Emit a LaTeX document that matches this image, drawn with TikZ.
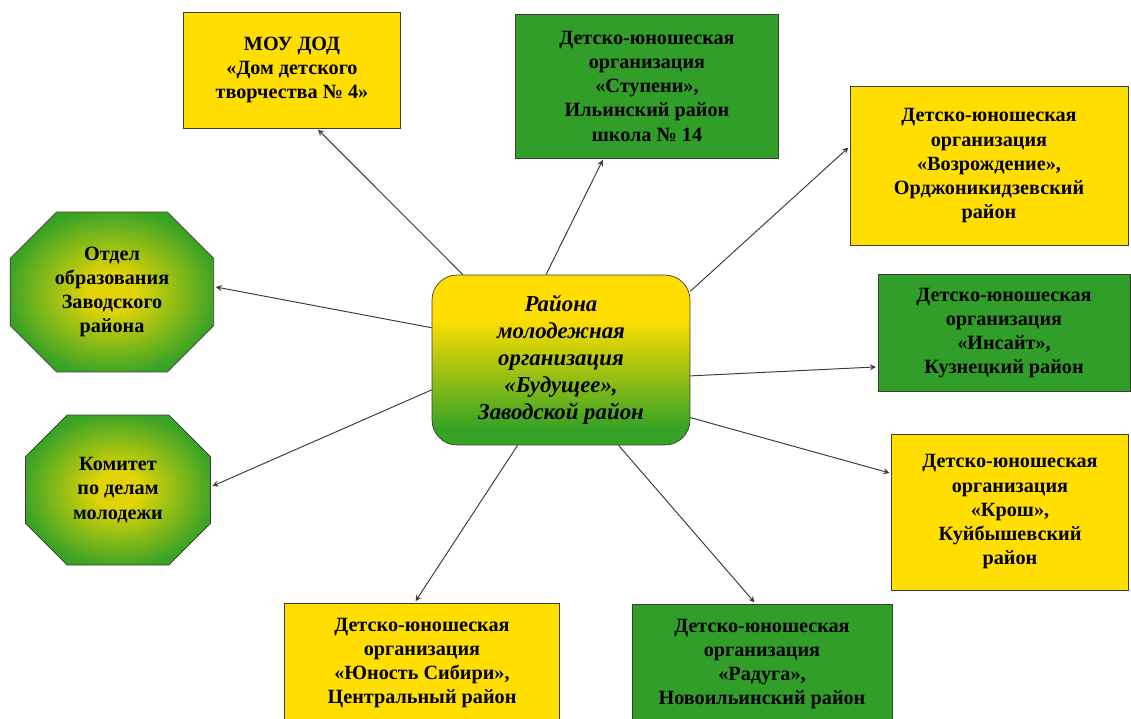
\documentclass[tikz,border=0pt]{standalone}
\usepackage{fontspec}
\setmainfont{Liberation Serif}
\usetikzlibrary{shapes.misc,arrows}
\definecolor{boxyellow}{RGB}{255,222,0}
\definecolor{boxgreen}{RGB}{48,158,40}
\definecolor{edgegray}{RGB}{60,60,50}
\pgfdeclareradialshading{octshade}{\pgfpoint{0bp}{0bp}}{color(0bp)=(boxyellow!85!boxgreen);
	color(6bp)=(boxyellow!85!boxgreen); color(26bp)=(boxgreen!95!yellow); color(50bp)=(boxgreen)}
\pgfdeclareverticalshading{midshade}{100bp}{color(0bp)=(boxgreen!95!lime); color(30bp)=(boxgreen!95!lime);
	color(62bp)=(boxyellow); color(100bp)=(boxyellow)}

\begin{document}
\begin{tikzpicture}[x=0.02cm,y=-0.02cm,>=stealth,shorten >=1pt,
	thin,yellow box/.style = {rectangle,draw=edgegray,fill=boxyellow,align=center,
		font=\bfseries\fontsize{11.5}{13.8}\selectfont,inner sep=2pt},
	green box/.style = {yellow box,fill=boxgreen},
	oct node/.style = {chamfered rectangle,chamfered rectangle xsep=0.9cm,draw=edgegray,
		shading=octshade,align=center,
		font=\bfseries\fontsize{11.5}{13.8}\selectfont,inner sep=2pt},
	main node/.style = {rectangle,rounded corners=0.5cm,draw=edgegray,shading=midshade,
		align=center,font=\bfseries\itshape\fontsize{13}{15.4}\selectfont}]
	
	\useasboundingbox (0,0) rectangle (1131,718);
	
	\node[main node,minimum width=5.16cm,minimum height=3.4cm] (c) at (561,360)
		{Района\\молодежная\\организация\\«Будущее»,\\Заводской район};
	
	\node[yellow box,minimum width=4.34cm,minimum height=2.32cm] (dom) at (292,70)
		{МОУ ДОД\\«Дом детского\\творчества № 4»};
	\node[green box,minimum width=5.26cm,minimum height=2.88cm] (stup) at (647,86)
		{Детско-юношеская\\организация\\«Ступени»,\\Ильинский район\\школа № 14};
	\node[yellow box,minimum width=5.56cm,minimum height=3.18cm] (vozr) at (989,166)
		{Детско-юношеская\\организация\\«Возрождение»,\\Орджоникидзевский\\район};
	\node[green box,minimum width=5.04cm,minimum height=2.34cm] (ins) at (1004,333)
		{Детско-юношеская\\организация\\«Инсайт»,\\Кузнецкий район};
	\node[yellow box,minimum width=4.74cm,minimum height=3.12cm] (krosh) at (1010,512)
		{Детско-юношеская\\организация\\«Крош»,\\Куйбышевский\\район};
	\node[yellow box,minimum width=5.5cm,minimum height=2.4cm] (yun) at (422,663)
		{Детско-юношеская\\организация\\«Юность Сибири»,\\Центральный район};
	\node[green box,minimum width=5.2cm,minimum height=2.4cm] (rad) at (762,664)
		{Детско-юношеская\\организация\\«Радуга»,\\Новоильинский район};
	
	\node[oct node,chamfered rectangle xsep=0.82cm,minimum width=3.78cm,minimum height=3.2cm] (otd) at (112,292)
		{Отдел\\образования\\Заводского\\района};
	\node[oct node,minimum width=3.7cm,minimum height=3cm] (kom) at (118,490)
		{Комитет\\по делам\\молодежи};
	
	\path[->,color=edgegray,line width=0.55pt]
	(c.139) edge (dom.-67)
	(c.100) edge (stup.-121)
	(c.28) edge (vozr.172)
	(c.166) edge (otd.3)
	(c.-167) edge (kom.2)
	(c.-7) edge (ins.-165)
	(c.-24) edge (krosh.162)
	(c.-117) edge (yun.97)
	(c.-56) edge (rad.96);
\end{tikzpicture}
\end{document}
